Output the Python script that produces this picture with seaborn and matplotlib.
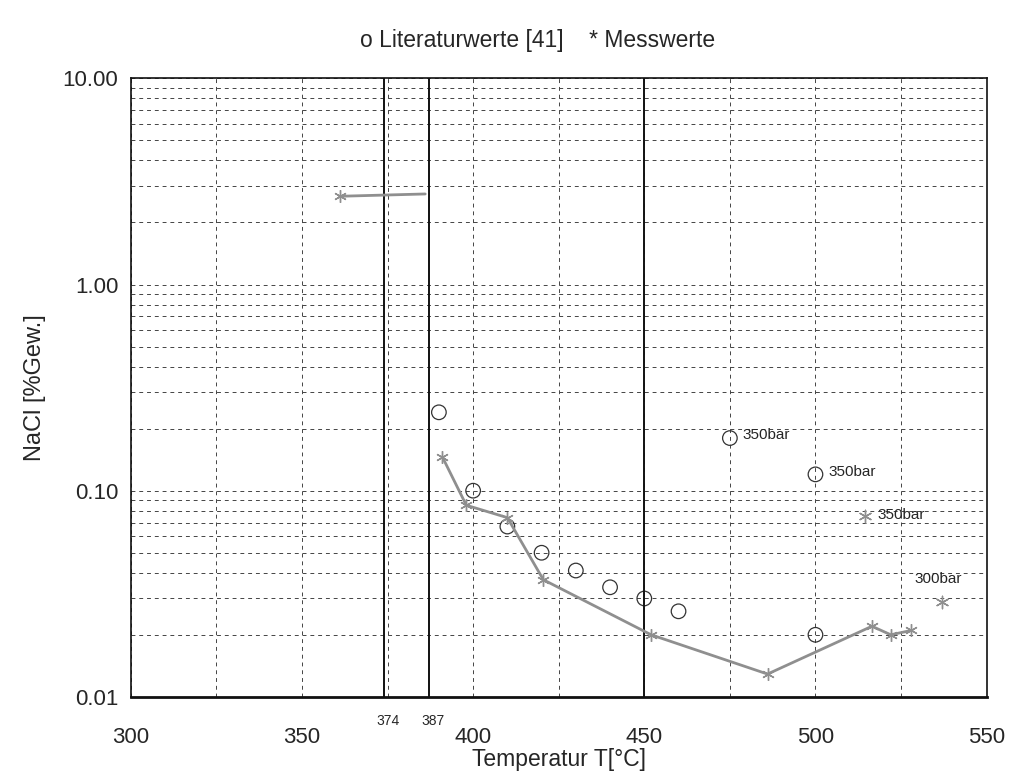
import numpy as np
import pandas as pd
import seaborn as sns
import matplotlib.pyplot as plt
from matplotlib.ticker import FixedLocator, NullFormatter, LogLocator

# Literature values (open circles)
lit_T = [390, 400, 410, 420, 430, 440, 450, 460, 475, 500, 500]
lit_nacl = [0.24, 0.100, 0.067, 0.050, 0.041, 0.034, 0.030, 0.026, 0.18, 0.12, 0.020]
lit_labels = ["", "", "", "", "", "", "", "", "350bar", "350bar", ""]

# Measured values, connected series
mess_T = [391, 398, 410, 420.5, 452, 486, 516.5, 522, 528]
mess_nacl = [0.146, 0.085, 0.074, 0.037, 0.020, 0.0129, 0.022, 0.0200, 0.021]

# Measured values, subcritical segment
sub_T = [361, 386]
sub_nacl = [2.68, 2.75]

# Single measured points with pressure labels
single_T = [514.5, 537]
single_nacl = [0.075, 0.029]
single_labels = ["350bar", "300bar"]

# Marked temperatures
mark_T = [374, 387]

sns.set_style("white")
plt.rcParams['font.family'] = ['Liberation Sans', 'DejaVu Sans']

fig = plt.figure(figsize=(10.14, 7.76), dpi=100)
ax = fig.add_axes([0.129, 0.102, 0.844, 0.797])

gray = '#8f8f8f'
star = (6, 2, 0)

lit = pd.DataFrame({'T': lit_T, 'NaCl': lit_nacl})
mess = pd.DataFrame({'T': mess_T, 'NaCl': mess_nacl})
sub = pd.DataFrame({'T': sub_T, 'NaCl': sub_nacl})
single = pd.DataFrame({'T': single_T, 'NaCl': single_nacl})

sns.lineplot(data=mess, x='T', y='NaCl', ax=ax, color=gray, lw=2, sort=False,
             marker=star, markersize=9, markeredgecolor=gray, markeredgewidth=1)
sns.lineplot(data=sub, x='T', y='NaCl', ax=ax, color=gray, lw=2, sort=False,
             marker=star, markersize=9, markeredgecolor=gray, markeredgewidth=1,
             markevery=[0])
sns.scatterplot(data=single, x='T', y='NaCl', ax=ax, marker=star, s=80,
                color=gray, linewidth=1, edgecolor=gray)
sns.scatterplot(data=lit, x='T', y='NaCl', ax=ax, s=110, facecolor='none',
                edgecolor='#333333', linewidth=0.9)

for t, v, lab in zip(lit_T, lit_nacl, lit_labels):
    if lab:
        ax.annotate(lab, (t, v), xytext=(9, 2), textcoords='offset points',
                    fontsize=11, va='center', ha='left')
ax.annotate(single_labels[0], (single_T[0], single_nacl[0]), xytext=(9, 1),
            textcoords='offset points', fontsize=11, va='center', ha='left')
ax.annotate(single_labels[1], (single_T[1], single_nacl[1]), xytext=(-3, 11),
            textcoords='offset points', fontsize=11, va='bottom', ha='center')

for t in mark_T:
    ax.axvline(t, color='#111111', lw=1.4, zorder=1)
    ax.text(t + 1.2, -0.028, str(t), transform=ax.get_xaxis_transform(),
            ha='center', va='top', fontsize=10)
ax.axvline(450, color='#111111', lw=1.4, zorder=1)

ax.set_yscale('log')
ax.set_xlim(300, 550)
ax.set_ylim(0.01, 10)
ax.set_xticks([300, 350, 400, 450, 500, 550])
ax.xaxis.set_minor_locator(FixedLocator(np.arange(325, 550, 25)))
ax.set_yticks([0.01, 0.1, 1, 10])
ax.set_yticklabels(['0.01', '0.10', '1.00', '10.00'])
ax.yaxis.set_minor_locator(LogLocator(base=10, subs=np.arange(2, 10)))
ax.yaxis.set_minor_formatter(NullFormatter())

ax.grid(True, which='both', axis='both', color='#444444', lw=0.7,
        linestyle=(0, (4, 4)))
ax.tick_params(axis='both', which='major', direction='inout', length=8,
               width=0.8, labelsize=16, pad=18)
ax.tick_params(axis='both', which='minor', direction='inout', length=5,
               width=0.6)
ax.tick_params(axis='y', which='major', pad=5)
for s in ax.spines.values():
    s.set_color('#111111')
    s.set_linewidth(1.2)
ax.spines['bottom'].set_linewidth(2)

ax.set_xlabel('Temperatur T[°C]', fontsize=16.5, labelpad=0)
ax.set_ylabel('NaCl [%Gew.]', fontsize=17, labelpad=12)
fig.text(0.53, 0.948, 'o Literaturwerte [41]    * Messwerte', ha='center',
         va='center', fontsize=16.5)

fig.savefig('out.png', dpi=100)
